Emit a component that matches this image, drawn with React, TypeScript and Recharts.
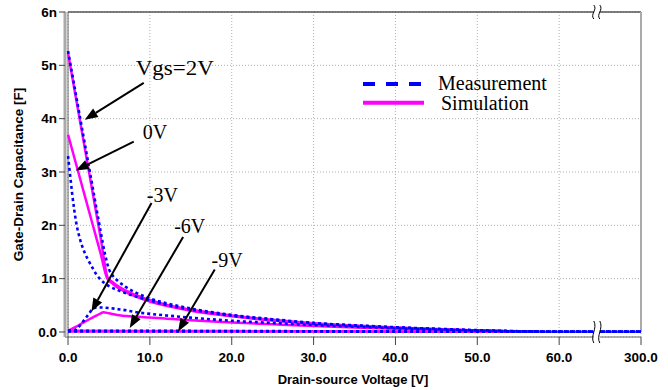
import React from 'react';
import { LineChart, Line, XAxis, YAxis, CartesianGrid, ReferenceLine, ReferenceDot, Legend } from 'recharts';

// ---------- axis ticks ----------
const X_TICKS = [0, 10, 20, 30, 40, 50, 60, 300];
const Y_TICKS = [0, 1, 2, 3, 4, 5, 6];

// ---------- Vgs = 2V ----------
const V_MEAS_2 = [0, 1, 2, 3, 4, 4.5, 5, 5.5, 6, 7, 8, 10, 12, 15, 20, 25, 30, 35, 40, 45, 50, 55, 60, 300];
const C_MEAS_2 = [5.27, 4.42, 3.57, 2.72, 1.87, 1.47, 1.18, 1.05, 0.97, 0.85, 0.76, 0.63, 0.54, 0.44, 0.32, 0.24, 0.17, 0.125, 0.09, 0.06, 0.035, 0.015, 0.008, 0.008];
const V_SIM_2 = [0, 1, 2, 3, 4, 4.85, 5.5, 6, 7, 8, 10, 12, 15, 20, 25, 30, 35, 40, 45, 50, 55, 57.5];
const C_SIM_2 = [5.23, 4.36, 3.49, 2.62, 1.75, 1.02, 0.93, 0.87, 0.78, 0.71, 0.6, 0.51, 0.42, 0.31, 0.23, 0.165, 0.12, 0.085, 0.055, 0.03, 0.012, 0.005];

// ---------- Vgs = 0V ----------
const V_MEAS_0 = [0, 0.25, 0.5, 0.75, 1, 1.5, 2, 2.5, 3, 3.5, 4, 5, 6, 7, 8, 10, 12, 15, 20, 25, 30, 35, 40, 45, 50, 55, 60, 300];
const C_MEAS_0 = [3.3, 2.95, 2.6, 2.3, 2.05, 1.72, 1.5, 1.34, 1.2, 1.07, 0.98, 0.86, 0.79, 0.73, 0.68, 0.59, 0.51, 0.42, 0.305, 0.225, 0.16, 0.12, 0.085, 0.055, 0.03, 0.012, 0.006, 0.006];
const V_SIM_0 = [0, 1, 2, 3, 4, 4.8, 5.5, 6, 7, 8, 10, 12, 15, 20, 25, 30, 35, 40, 45, 50, 55, 57.5];
const C_SIM_0 = [3.7, 3.14, 2.58, 2.02, 1.46, 1.0, 0.9, 0.84, 0.75, 0.68, 0.57, 0.49, 0.4, 0.295, 0.215, 0.155, 0.11, 0.08, 0.05, 0.027, 0.01, 0.005];

// ---------- Vgs = -3V ----------
const V_MEAS_3 = [0, 0.5, 1, 1.5, 2, 2.5, 3, 3.5, 4, 5, 6, 7, 8, 10, 12, 15, 20, 25, 30, 35, 40, 45, 50, 55, 60, 300];
const C_MEAS_3 = [0.02, 0.02, 0.05, 0.13, 0.23, 0.33, 0.43, 0.46, 0.46, 0.45, 0.43, 0.41, 0.38, 0.34, 0.31, 0.27, 0.21, 0.17, 0.13, 0.1, 0.07, 0.045, 0.025, 0.01, 0.005, 0.005];
const V_SIM_3 = [0, 1, 2, 3, 4, 4.3, 5, 6, 8, 10, 12, 15, 20, 25, 30, 35, 40, 45, 50, 55, 57.5];
const C_SIM_3 = [0.02, 0.1, 0.19, 0.27, 0.35, 0.37, 0.35, 0.32, 0.29, 0.27, 0.25, 0.22, 0.18, 0.145, 0.11, 0.085, 0.06, 0.04, 0.022, 0.01, 0.005];

// ---------- Vgs = -6V / -9V ----------
const V_MEAS_6 = [0, 10, 20, 30, 40, 50, 60, 300];
const C_MEAS_6 = [0.025, 0.022, 0.018, 0.014, 0.01, 0.006, 0.005, 0.005];
const V_SIM_6 = [0, 10, 20, 30, 40, 50, 57.5];
const C_SIM_6 = [0.022, 0.02, 0.017, 0.013, 0.009, 0.005, 0.004];
const V_MEAS_9 = [0, 10, 20, 30, 40, 50, 60, 300];
const C_MEAS_9 = [0.012, 0.011, 0.01, 0.008, 0.006, 0.004, 0.004, 0.004];
const V_SIM_9 = [0, 10, 20, 30, 40, 50, 57.5];
const C_SIM_9 = [0.01, 0.01, 0.009, 0.007, 0.005, 0.003, 0.003];

// ---------- annotations (data coordinates) ----------
const ANNOT_LABELS = ['Vgs=2V', '0V', '-3V', '-6V', '-9V'];
const ANNOT_TEXT_AT = [[8.28, 4.81], [9.13, 3.62], [9.62, 2.44], [12.97, 1.86], [17.53, 1.21]];
const ANNOT_WIDTH = [78, 0, 0, 0, 0];
const ARROW_FROM = [[9.25, 4.67], [8.03, 3.57], [10.2, 2.42], [14.06, 1.78], [17.93, 1.17]];
const ARROW_TO = [[2.04, 3.98], [0.94, 3.03], [2.86, 0.386], [7.54, 0.075], [13.45, 0.01]];

const LEGEND_LABELS = ['Measurement', 'Simulation'];
const BLUE = '#0000ff';
const MAGENTA = '#ff00ff';

// broken axis: 60..300 compressed into the width of 10 units
const brk = (v: number) => (v <= 60 ? v : 60 + (v - 60) / 24);
const build = (vs: number[], cs: number[]) => vs.map((v, i) => ({ x: brk(v), y: cs[i] }));

const SERIES = [
  { key: 'sim2', data: build(V_SIM_2, C_SIM_2), meas: false },
  { key: 'sim0', data: build(V_SIM_0, C_SIM_0), meas: false },
  { key: 'sim3', data: build(V_SIM_3, C_SIM_3), meas: false },
  { key: 'sim6', data: build(V_SIM_6, C_SIM_6), meas: false },
  { key: 'sim9', data: build(V_SIM_9, C_SIM_9), meas: false },
  { key: 'meas2', data: build(V_MEAS_2, C_MEAS_2), meas: true },
  { key: 'meas0', data: build(V_MEAS_0, C_MEAS_0), meas: true },
  { key: 'meas3', data: build(V_MEAS_3, C_MEAS_3), meas: true },
  { key: 'meas6', data: build(V_MEAS_6, C_MEAS_6), meas: true },
  { key: 'meas9', data: build(V_MEAS_9, C_MEAS_9), meas: true },
];

const Y_MIN = -0.094;
const X_MIN = -0.37;
const X_MAX = brk(300);
const BREAK_X = 64.6;

const tickStyle = { fontFamily: 'Liberation Sans, Arial, sans-serif', fontWeight: 700, fontSize: 13.5, fill: '#000' };

const Arrow = (props: any) => {
  const { x1, y1, x2, y2 } = props;
  const dx = x2 - x1;
  const dy = y2 - y1;
  const len = Math.sqrt(dx * dx + dy * dy);
  const ux = dx / len;
  const uy = dy / len;
  const hl = 13;
  const hw = 5;
  const bx = x2 - ux * hl;
  const by = y2 - uy * hl;
  const pts = `${x2},${y2} ${bx - uy * hw},${by + ux * hw} ${bx + uy * hw},${by - ux * hw}`;
  return (
    <g>
      <line x1={x1} y1={y1} x2={bx} y2={by} stroke="#000" strokeWidth={2} />
      <polygon points={pts} fill="#000" />
    </g>
  );
};

const makeLabel = (text: string, w: number) => (props: any) => (
  <text
    x={props.cx}
    y={props.cy}
    fontFamily="Liberation Serif, Times New Roman, serif"
    fontSize={20}
    fill="#000"
    {...(w > 0 ? { textLength: w, lengthAdjust: 'spacingAndGlyphs' } : {})}
  >
    {text}
  </text>
);

const BreakMark = (h: number) => (props: any) => {
  const { cx, cy } = props;
  const wave = (x: number) =>
    `M${x},${cy - h} C${x + 4},${cy - h / 3} ${x - 4},${cy + h / 3} ${x},${cy + h}`;
  return (
    <g>
      <rect x={cx - 3} y={cy - h} width={6} height={2 * h} fill="#fff" />
      <path d={wave(cx - 3)} stroke="#000" strokeWidth={1} fill="none" />
      <path d={wave(cx + 3)} stroke="#000" strokeWidth={1} fill="none" />
    </g>
  );
};

const LegendContent = () => (
  <svg width={220} height={50}>
    <line x1={8} y1={14} x2={68} y2={14} stroke={BLUE} strokeWidth={4} strokeDasharray="12 11" />
    <text x={83} y={19.5} fontFamily="Liberation Serif, Times New Roman, serif" fontSize={20} fill="#000">
      {LEGEND_LABELS[0]}
    </text>
    <line x1={8} y1={32.7} x2={69} y2={32.7} stroke={MAGENTA} strokeWidth={4} />
    <text x={86} y={40} fontFamily="Liberation Serif, Times New Roman, serif" fontSize={20} fill="#000">
      {LEGEND_LABELS[1]}
    </text>
  </svg>
);

export default function App() {
  return (
    <div style={{ position: 'absolute', left: 0, top: 0, width: 668, height: 390, background: '#fff' }}>
      <LineChart width={668} height={390} margin={{ top: 12, right: 27, bottom: 0, left: 0 }}>
        <CartesianGrid stroke="#b0b0b0" strokeDasharray="1 2" />
        <XAxis
          type="number"
          dataKey="x"
          domain={[X_MIN, X_MAX]}
          allowDataOverflow
          ticks={X_TICKS.map(brk)}
          tickFormatter={(v: number) => X_TICKS[X_TICKS.map(brk).indexOf(v)].toFixed(1)}
          height={53}
          tickSize={8}
          tickMargin={7}
          axisLine={{ stroke: '#666', strokeWidth: 1 }}
          tickLine={{ stroke: '#444', strokeWidth: 1 }}
          tick={tickStyle}
          label={{ value: 'Drain-source Voltage [V]', position: 'insideBottom', offset: 6, style: { ...tickStyle, fontSize: 13, textAnchor: 'middle' } }}
        />
        <YAxis
          type="number"
          dataKey="y"
          domain={[Y_MIN, 6]}
          allowDataOverflow
          ticks={Y_TICKS}
          tickFormatter={(v: number) => (v === 0 ? '0.0' : `${v}n`)}
          width={65}
          tickSize={6}
          tickMargin={2}
          axisLine={{ stroke: '#aaaaaa', strokeWidth: 3 }}
          tickLine={{ stroke: '#444', strokeWidth: 1 }}
          tick={tickStyle}
          label={{ value: 'Gate-Drain Capacitance [F]', angle: -90, position: 'insideLeft', offset: 18, style: { ...tickStyle, fontSize: 13.5, textAnchor: 'middle' } }}
        />
        <ReferenceLine segment={[{ x: 0, y: Y_MIN }, { x: 0, y: 6 }]} stroke="#666" strokeWidth={1} />
        <ReferenceLine segment={[{ x: 0, y: 6 }, { x: X_MAX, y: 6 }]} stroke="#555" strokeWidth={1.5} />
        <ReferenceLine segment={[{ x: X_MAX, y: 0 }, { x: X_MAX, y: 6 }]} stroke="#aaaaaa" strokeWidth={2} />
        {SERIES.filter((s) => !s.meas).map((s) => (
          <Line key={s.key} data={s.data} dataKey="y" type="monotone" stroke={MAGENTA} strokeWidth={2.5} dot={false} isAnimationActive={false} legendType="none" />
        ))}
        {SERIES.filter((s) => s.meas).map((s) => (
          <Line key={s.key} data={s.data} dataKey="y" type="monotone" stroke={BLUE} strokeWidth={2.6} strokeDasharray="3 3" dot={false} isAnimationActive={false} legendType="none" />
        ))}
        {ANNOT_LABELS.map((t, i) => (
          <ReferenceLine
            key={'arrow' + i}
            segment={[{ x: ARROW_FROM[i][0], y: ARROW_FROM[i][1] }, { x: ARROW_TO[i][0], y: ARROW_TO[i][1] }]}
            shape={Arrow}
            ifOverflow="visible"
          />
        ))}
        {ANNOT_LABELS.map((t, i) => (
          <ReferenceDot key={'lbl' + i} x={ANNOT_TEXT_AT[i][0]} y={ANNOT_TEXT_AT[i][1]} r={0} shape={makeLabel(t, ANNOT_WIDTH[i])} ifOverflow="visible" />
        ))}
        <ReferenceDot x={BREAK_X} y={6} r={0} shape={BreakMark(7)} ifOverflow="visible" />
        <ReferenceDot x={BREAK_X} y={0} r={0} shape={BreakMark(11)} ifOverflow="visible" />
        <Legend
          layout="horizontal"
          align="center"
          verticalAlign="middle"
          content={LegendContent}
          wrapperStyle={{ position: 'absolute', left: 355, top: 70, width: 220, height: 50 }}
        />
      </LineChart>
    </div>
  );
}
